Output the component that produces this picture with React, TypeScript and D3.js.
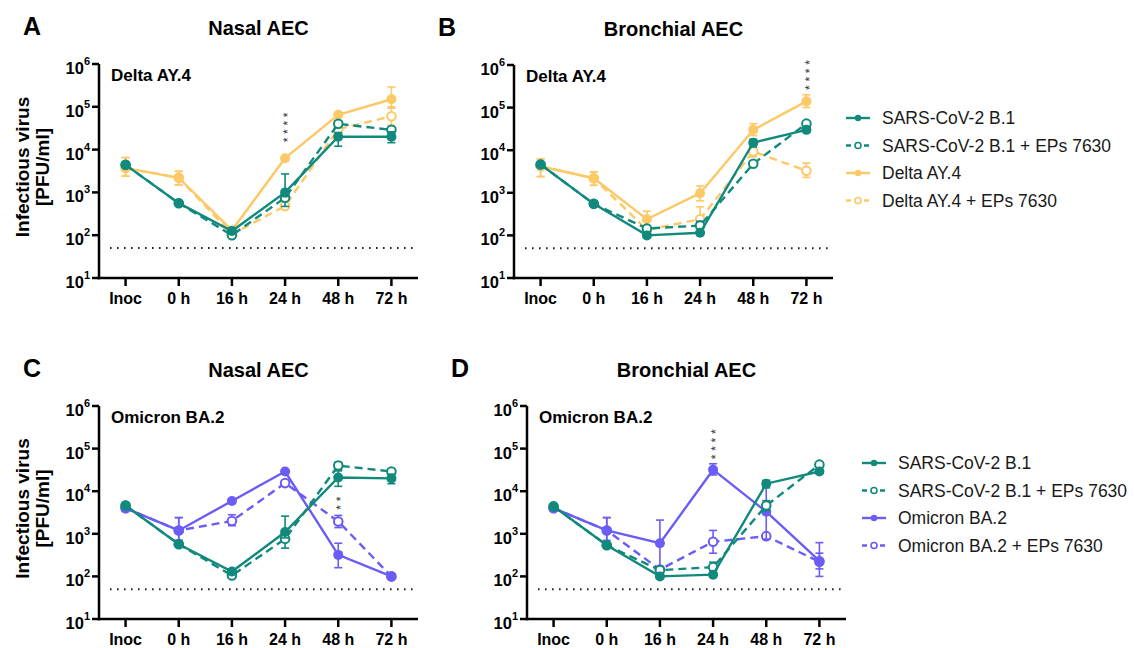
import React from 'react';
import * as d3 from 'd3';

const times = ['Inoc', '0 h', '16 h', '24 h', '48 h', '72 h'];
const yExps = [1, 2, 3, 4, 5, 6];
const limitOfDetection = 50;

const teal = '#11897c';
const yellow = '#fdc866';
const purple = '#6a5cf4';

// A: nasal, Delta
const nA_b1 = [4400, 560, 125, 1000, 20000, 20000];
const nA_b1Lo = [4000, 520, 108, 800, 12000, 14500];
const nA_b1Hi = [4900, 600, 150, 2700, 25000, 26000];
const nA_b1Ep = [4400, 560, 100, 750, 40000, 29000];
const nA_b1EpLo = [4000, 520, 90, 470, 33000, 26000];
const nA_b1EpHi = [4900, 600, 115, 900, 47000, 32000];
const nA_var = [3700, 2200, 130, 6300, 65000, 150000];
const nA_varLo = [2400, 1500, 115, 5800, 60000, 93000];
const nA_varHi = [6500, 3100, 150, 6800, 70000, 290000];
const nA_varEp = [3700, 2200, 105, 480, 30000, 60000];
const nA_varEpLo = [2400, 1500, 95, 440, 22000, 37000];
const nA_varEpHi = [6500, 3100, 120, 560, 40000, 100000];

// B: bronchial, Delta
const bB_b1 = [4600, 550, 100, 115, 15000, 30000];
const bB_b1Lo = [4200, 510, 95, 105, 12000, 27000];
const bB_b1Hi = [5000, 600, 110, 125, 18000, 34000];
const bB_b1Ep = [4600, 550, 145, 170, 4800, 42000];
const bB_b1EpLo = [4200, 510, 130, 150, 4300, 36000];
const bB_b1EpHi = [5000, 600, 160, 215, 5300, 48000];
const bB_var = [4200, 2200, 240, 980, 30000, 140000];
const bB_varLo = [2400, 1500, 150, 650, 22000, 100000];
const bB_varHi = [6300, 3100, 370, 1450, 42000, 200000];
const bB_varEp = [4200, 2200, 135, 240, 9300, 3300];
const bB_varEpLo = [2400, 1500, 120, 170, 7000, 2300];
const bB_varEpHi = [6300, 3100, 150, 470, 12000, 5000];

// C: nasal, Omicron
const nC_b1 = [4600, 570, 130, 1100, 21000, 20000];
const nC_b1Lo = [4200, 530, 110, 800, 13000, 15000];
const nC_b1Hi = [5000, 610, 150, 2600, 30000, 25000];
const nC_b1Ep = [4600, 570, 105, 760, 40000, 29000];
const nC_b1EpLo = [4200, 530, 95, 460, 32000, 26000];
const nC_b1EpHi = [5000, 610, 115, 900, 48000, 32000];
const nC_var = [4000, 1200, 5900, 29000, 320, 100];
const nC_varLo = [3500, 700, 5500, 26000, 160, 95];
const nC_varHi = [4600, 2400, 6300, 32000, 600, 105];
const nC_varEp = [4000, 1200, 2000, 15500, 1950, 100];
const nC_varEpLo = [3500, 700, 1550, 14500, 1400, 95];
const nC_varEpHi = [4600, 2400, 2800, 16500, 2700, 105];

// D: bronchial, Omicron
const bD_b1 = [4400, 540, 100, 110, 15000, 29000];
const bD_b1Lo = [4000, 500, 95, 100, 12000, 26000];
const bD_b1Hi = [4800, 580, 105, 120, 18000, 32000];
const bD_b1Ep = [4400, 540, 140, 165, 4600, 42000];
const bD_b1EpLo = [4000, 500, 125, 140, 3500, 37000];
const bD_b1EpHi = [4800, 580, 155, 215, 6000, 47000];
const bD_var = [4000, 1200, 600, 32000, 3300, 230];
const bD_varLo = [3500, 600, 170, 24000, 750, 100];
const bD_varHi = [4600, 2400, 2100, 44000, 13000, 620];
const bD_varEp = [4000, 1200, 145, 650, 880, 220];
const bD_varEpLo = [3500, 700, 130, 350, 780, 150];
const bD_varEpHi = [4600, 2400, 160, 1200, 1000, 350];

const deltaLegend = ['SARS-CoV-2 B.1', 'SARS-CoV-2 B.1 + EPs 7630', 'Delta AY.4', 'Delta AY.4 + EPs 7630'];
const omicronLegend = ['SARS-CoV-2 B.1', 'SARS-CoV-2 B.1 + EPs 7630', 'Omicron BA.2', 'Omicron BA.2 + EPs 7630'];

type Series = { mean: number[]; lo: number[]; hi: number[]; color: string; dashed: boolean };

const mk = (mean: number[], lo: number[], hi: number[], color: string, dashed: boolean): Series => ({ mean, lo, hi, color, dashed });

const panels = [
  {
    letter: 'A', title: 'Nasal AEC', virus: 'Delta AY.4', x0: 99, y0: 64, y1: 278, yLabel: true,
    series: [
      mk(nA_varEp, nA_varEpLo, nA_varEpHi, yellow, true),
      mk(nA_var, nA_varLo, nA_varHi, yellow, false),
      mk(nA_b1Ep, nA_b1EpLo, nA_b1EpHi, teal, true),
      mk(nA_b1, nA_b1Lo, nA_b1Hi, teal, false),
    ],
    sig: { time: '24 h', stars: 4, level: 16500 },
  },
  {
    letter: 'B', title: 'Bronchial AEC', virus: 'Delta AY.4', x0: 514, y0: 65, y1: 278, yLabel: false,
    series: [
      mk(bB_varEp, bB_varEpLo, bB_varEpHi, yellow, true),
      mk(bB_var, bB_varLo, bB_varHi, yellow, false),
      mk(bB_b1Ep, bB_b1EpLo, bB_b1EpHi, teal, true),
      mk(bB_b1, bB_b1Lo, bB_b1Hi, teal, false),
    ],
    sig: { time: '72 h', stars: 4, level: 290000 },
  },
  {
    letter: 'C', title: 'Nasal AEC', virus: 'Omicron BA.2', x0: 99, y0: 406, y1: 619, yLabel: true,
    series: [
      mk(nC_varEp, nC_varEpLo, nC_varEpHi, purple, true),
      mk(nC_var, nC_varLo, nC_varHi, purple, false),
      mk(nC_b1Ep, nC_b1EpLo, nC_b1EpHi, teal, true),
      mk(nC_b1, nC_b1Lo, nC_b1Hi, teal, false),
    ],
    sig: { time: '48 h', stars: 2, level: 4100 },
  },
  {
    letter: 'D', title: 'Bronchial AEC', virus: 'Omicron BA.2', x0: 527, y0: 406, y1: 619, yLabel: false,
    series: [
      mk(bD_varEp, bD_varEpLo, bD_varEpHi, purple, true),
      mk(bD_var, bD_varLo, bD_varHi, purple, false),
      mk(bD_b1Ep, bD_b1EpLo, bD_b1EpHi, teal, true),
      mk(bD_b1, bD_b1Lo, bD_b1Hi, teal, false),
    ],
    sig: { time: '24 h', stars: 4, level: 63000 },
  },
];

const legends = [
  { labels: deltaLegend, colors: [teal, teal, yellow, yellow], x: 846, y: 118 },
  { labels: omicronLegend, colors: [teal, teal, purple, purple], x: 862, y: 463 },
];

const font = 'Arial, "Liberation Sans", Helvetica, sans-serif';
const axisW = 319;

const Panel = ({ p }: { p: (typeof panels)[number] }) => {
  const x = d3.scalePoint<string>().domain(times).range([p.x0, p.x0 + axisW]).padding(0.5);
  const y = d3.scaleLog().domain([10, 1e6]).range([p.y1, p.y0]);
  const line = d3.line<number>().x((_, i) => x(times[i])!).y((d) => y(d));
  const midX = p.x0 + axisW / 2;
  const midY = (p.y0 + p.y1) / 2;
  const sx = x(p.sig.time)!;
  const sy = y(p.sig.level);

  return (
    <g>
      <text x={p.x0 - 76} y={p.y0 - 29} fontSize={25} fontWeight="bold">{p.letter}</text>
      <text x={midX} y={p.y0 - 29} fontSize={20} fontWeight="bold" textAnchor="middle">{p.title}</text>
      {p.yLabel && (
        <g fontSize={19} fontWeight="bold" textAnchor="middle">
          <text transform={`translate(${p.x0 - 70},${midY - 4}) rotate(-90)`}>Infectious virus</text>
          <text transform={`translate(${p.x0 - 50},${midY - 4}) rotate(-90)`}>[PFU/ml]</text>
        </g>
      )}
      <text x={p.x0 + 12} y={p.y0 + 17} fontSize={17} fontWeight="bold">{p.virus}</text>

      {/* limit of detection */}
      <line x1={p.x0 + 11} x2={p.x0 + 315} y1={y(limitOfDetection)} y2={y(limitOfDetection)}
        stroke="#222" strokeWidth={2} strokeDasharray="1.6,5.4" />

      {/* axes */}
      <line x1={p.x0} x2={p.x0} y1={p.y0} y2={p.y1 + 1.25} stroke="#000" strokeWidth={2.5} />
      <line x1={p.x0 - 1.25} x2={p.x0 + axisW} y1={p.y1} y2={p.y1} stroke="#000" strokeWidth={2.5} />
      {yExps.map((e) => (
        <g key={e}>
          <line x1={p.x0 - 7} x2={p.x0} y1={y(10 ** e)} y2={y(10 ** e)} stroke="#000" strokeWidth={2.5} />
          <text x={p.x0 - 9} y={y(10 ** e) + 10} fontSize={16.5} fontWeight="bold" textAnchor="end">
            10<tspan dy={-9} fontSize={11}>{e}</tspan>
          </text>
        </g>
      ))}
      {times.map((t) => (
        <g key={t}>
          <line x1={x(t)} x2={x(t)} y1={p.y1} y2={p.y1 + 8} stroke="#000" strokeWidth={2.5} />
          <text x={x(t)} y={p.y1 + 26} fontSize={16} fontWeight="bold" textAnchor="middle">{t}</text>
        </g>
      ))}

      {/* series */}
      {p.series.map((s, si) => (
        <g key={si}>
          {s.mean.map((m, i) => {
            const cx = x(times[i])!;
            return (
              <g key={i} stroke={s.color} strokeWidth={1.6}>
                <line x1={cx} x2={cx} y1={y(s.lo[i])} y2={y(s.hi[i])} />
                <line x1={cx - 4} x2={cx + 4} y1={y(s.lo[i])} y2={y(s.lo[i])} />
                <line x1={cx - 4} x2={cx + 4} y1={y(s.hi[i])} y2={y(s.hi[i])} />
              </g>
            );
          })}
          <path d={line(s.mean)!} fill="none" stroke={s.color} strokeWidth={2.4}
            strokeDasharray={s.dashed ? '8,5' : undefined} />
          {s.mean.map((m, i) => (
            <circle key={i} cx={x(times[i])} cy={y(m)} r={s.dashed ? 4.3 : 5}
              fill={s.dashed ? '#fff' : s.color} stroke={s.color} strokeWidth={s.dashed ? 2 : 0} />
          ))}
        </g>
      ))}

      {/* significance, stacked vertically */}
      <text transform={`translate(${sx},${sy + 2}) rotate(-90)`} dy="0.6em" fontSize={12}
        letterSpacing={3.7} fill="#333">{'*'.repeat(p.sig.stars)}</text>
    </g>
  );
};

const App = () => (
  <svg width={1134} height={648} style={{ position: 'absolute', left: 0, top: 0, background: '#fff' }}
    fontFamily={font}>
    {panels.map((p) => <Panel key={p.letter} p={p} />)}
    {legends.map((lg, li) => (
      <g key={li}>
        {lg.labels.map((lab, i) => {
          const yy = lg.y + i * 27.5;
          const dashed = i % 2 === 1;
          return (
            <g key={lab}>
              <line x1={lg.x} x2={lg.x + 24} y1={yy} y2={yy} stroke={lg.colors[i]} strokeWidth={2.4}
                strokeDasharray={dashed ? '5,4' : undefined} />
              <circle cx={lg.x + 12} cy={yy} r={dashed ? 3 : 3.2} fill={dashed ? '#fff' : lg.colors[i]}
                stroke={lg.colors[i]} strokeWidth={dashed ? 1.6 : 0} />
              <text x={lg.x + 36} y={yy + 6} fontSize={17.5} fill="#1a1a1a">{lab}</text>
            </g>
          );
        })}
      </g>
    ))}
  </svg>
);

export default App;
